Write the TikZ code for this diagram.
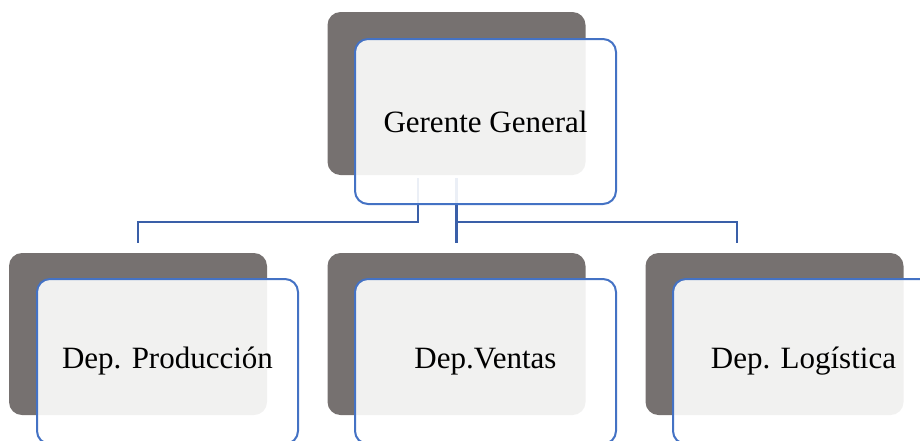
\documentclass[tikz,border=0pt]{standalone}
\usepackage{fontspec}
\setmainfont{Liberation Serif}
\definecolor{boxgray}{HTML}{767170}
\definecolor{boxblue}{HTML}{4472C4}
\definecolor{linkblue}{HTML}{3A5FA8}
\tikzset{
	backbox/.style={fill=boxgray, rounded corners=13pt, inner sep=0pt, minimum width=258pt, minimum height=162pt},
	frontbox/.style={draw=boxblue, line width=2pt, fill=white, fill opacity=0.9, text opacity=1, rounded corners=13pt, inner sep=0pt, minimum width=261pt, minimum height=165pt, font=\fontsize{31}{36}\selectfont},
	link/.style={draw=linkblue, line width=2.4pt}
}
\begin{document}
\begin{tikzpicture}[x=1pt,y=-1pt]
	\useasboundingbox (0,0) rectangle (920,440);
	\clip (0,0) rectangle (920,440);
	% back boxes
	\node[backbox, minimum height=163pt] (gg-back) at (456.5,93.5) {};
	\node[backbox] (prod-back) at (138,334) {};
	\node[backbox] (vent-back) at (456.5,334) {};
	\node[backbox] (log-back) at (774.5,334) {};
	% connectors
	\draw[link] ([xshift=-38.5pt,yshift=-3pt]gg-back.south) -- ++(0,44) -| ([yshift=10pt]prod-back.north);
	\draw[link] ([yshift=-3pt]gg-back.south) -- ([yshift=10pt]vent-back.north);
	\draw[link] ([yshift=-47pt]gg-back.south) -| ([xshift=-37.5pt,yshift=10pt]log-back.north);
	% front boxes
	\node[frontbox] (gg) at ([shift={(29pt,-28pt)}]gg-back.center) {Gerente General};
	\node[frontbox] (prod) at ([shift={(29.5pt,-27.5pt)}]prod-back.center) {Dep. Producción};
	\node[frontbox] (vent) at ([shift={(29pt,-27.5pt)}]vent-back.center) {Dep.Ventas};
	\node[frontbox] (log) at ([shift={(29pt,-27.5pt)}]log-back.center) {Dep. Logística};
\end{tikzpicture}
\end{document}
